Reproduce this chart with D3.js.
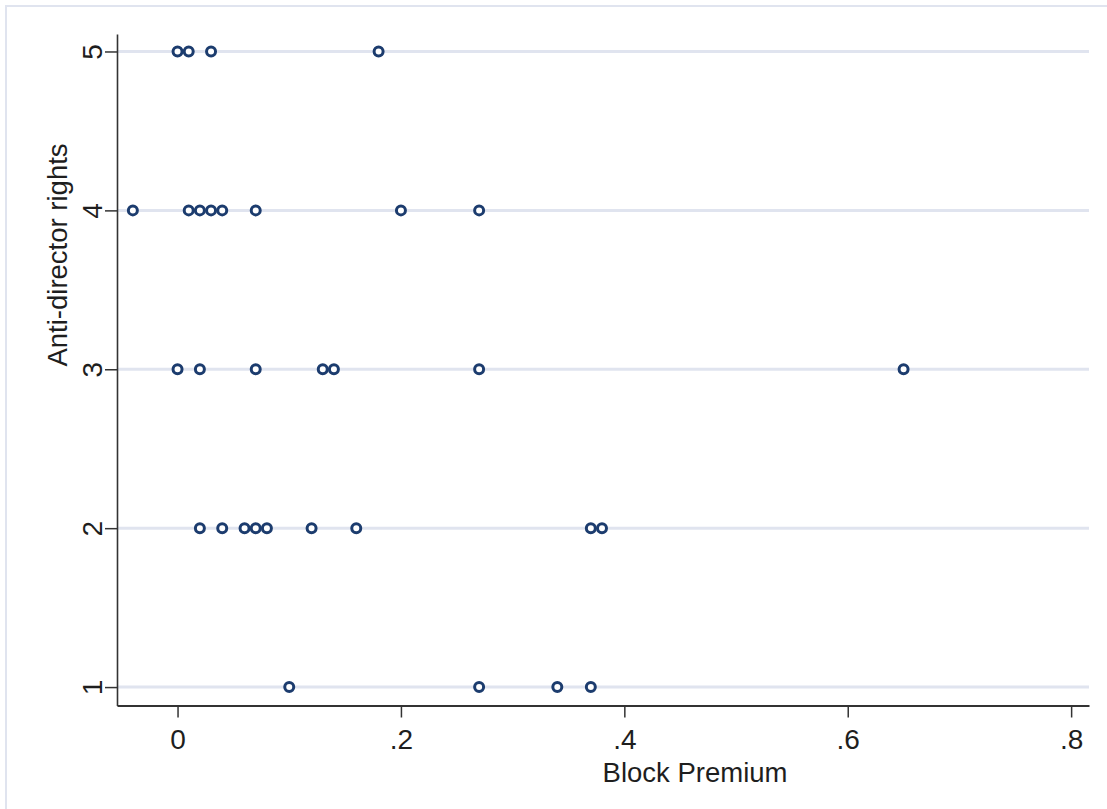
<html><head>
<meta charset="UTF-8">
<title>Block Premium vs Anti-director rights</title>
<script src="https://cdn.jsdelivr.net/npm/d3@7"></script>
<style>
  body { margin: 0; background: #fff; overflow: hidden; }
  svg { display: block; }
  svg text { font-family: "Liberation Sans", Arial, sans-serif; fill: #1e1e1e; }
  .grid line { stroke: #e0e4ef; stroke-width: 3px; }
  .axis path, .axis line { stroke: #333; }
  .pt { fill: #fff; stroke: #1c3c6e; stroke-width: 3px; }
</style>
</head>
<body>
<div id="chart"></div>
<script>
// block premium values for each anti-director rights score
const rights5 = [0, 0.01, 0.03, 0.18];
const rights4 = [-0.04, 0.01, 0.02, 0.03, 0.04, 0.07, 0.20, 0.27];
const rights3 = [0, 0.02, 0.07, 0.13, 0.14, 0.27, 0.65];
const rights2 = [0.02, 0.04, 0.06, 0.07, 0.08, 0.12, 0.16, 0.37, 0.38];
const rights1 = [0.10, 0.27, 0.34, 0.37];

const xTicks = [0, 0.2, 0.4, 0.6, 0.8];
const xTickLabels = ["0", ".2", ".4", ".6", ".8"];
const yTicks = [1, 2, 3, 4, 5];

const points = [];
[[5, rights5], [4, rights4], [3, rights3], [2, rights2], [1, rights1]].forEach(([r, vals]) => {
  vals.forEach(v => points.push({x: v, y: r}));
});

const W = 1107, H = 809;
const plot = {left: 117, right: 1089, top: 34, bottom: 705.5};

const svg = d3.select("#chart").append("svg")
    .attr("width", W)
    .attr("height", H);

// outer frame (right and bottom edges fall outside the picture)
svg.append("rect")
    .attr("x", 6).attr("y", 6)
    .attr("width", W + 10).attr("height", H + 10)
    .attr("fill", "none")
    .attr("stroke", "#e0e4ef")
    .attr("stroke-width", 2);

const x = d3.scaleLinear()
    .domain([-0.0542, 0.816])
    .range([plot.left, plot.right]);

const y = d3.scaleLinear()
    .domain([0.884, 5.11])
    .range([plot.bottom, plot.top]);

// horizontal gridlines
svg.append("g")
    .attr("class", "grid")
  .selectAll("line")
    .data(yTicks)
  .enter().append("line")
    .attr("x1", plot.left + 1)
    .attr("x2", plot.right)
    .attr("y1", d => y(d))
    .attr("y2", d => y(d));

// x axis
const xAxis = svg.append("g")
    .attr("class", "axis")
    .attr("transform", `translate(0,${plot.bottom})`)
    .call(d3.axisBottom(x).tickValues(xTicks).tickFormat((d, i) => xTickLabels[i]).tickSize(12).tickSizeOuter(0));
xAxis.select(".domain").attr("stroke-width", 2);
xAxis.selectAll(".tick line").attr("stroke-width", 1.5);
xAxis.selectAll(".tick text")
    .attr("y", 43)
    .attr("dy", 0)
    .style("font-size", "28px");

// y axis
const yAxis = svg.append("g")
    .attr("class", "axis")
    .attr("transform", `translate(${plot.left},0)`)
    .call(d3.axisLeft(y).tickValues(yTicks).tickFormat(d3.format("d")).tickSize(12).tickSizeOuter(0));
yAxis.select(".domain").attr("stroke-width", 1.6);
yAxis.selectAll(".tick line").attr("stroke-width", 1.5);
yAxis.selectAll(".tick text")
    .attr("x", null)
    .attr("dy", 0)
    .attr("transform", "translate(-15,0) rotate(-90)")
    .attr("text-anchor", "middle")
    .style("font-size", "28px");

// axis titles
svg.append("text")
    .attr("transform", "translate(67,255) rotate(-90)")
    .attr("text-anchor", "middle")
    .style("font-size", "27.5px")
    .text("Anti-director rights");

svg.append("text")
    .attr("x", 695)
    .attr("y", 782)
    .attr("text-anchor", "middle")
    .style("font-size", "27.5px")
    .text("Block Premium");

// markers
svg.append("g")
  .selectAll("circle")
    .data(points)
  .enter().append("circle")
    .attr("class", "pt")
    .attr("cx", d => x(d.x))
    .attr("cy", d => y(d.y))
    .attr("r", 4.5);
</script>
</body></html>
